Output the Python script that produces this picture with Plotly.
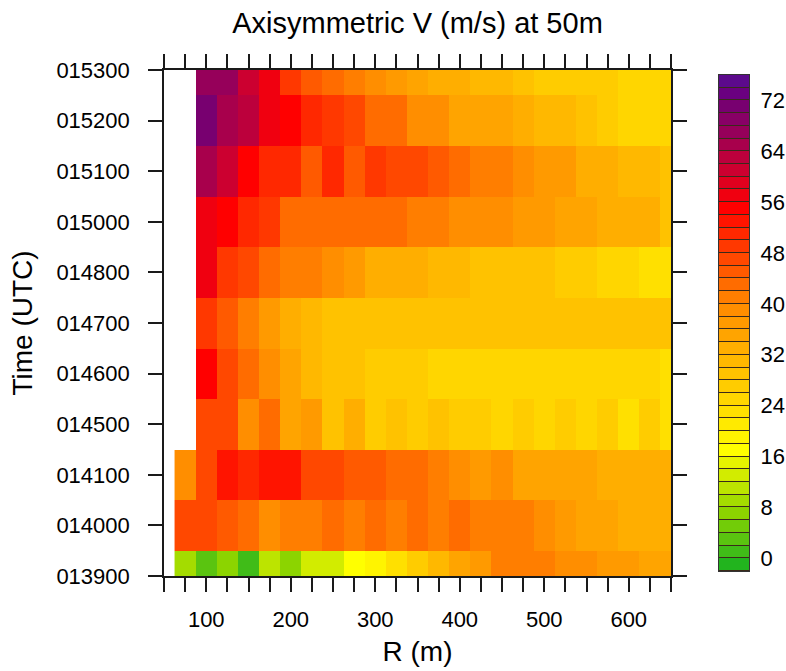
import plotly.graph_objects as go

# Radial bins (m) and observation times
radius_m = list(range(75, 651, 25))
time_labels = ["013900", "014000", "014100", "014500", "014600", "014700",
               "014800", "015000", "015100", "015200", "015300"]

# Axisymmetric tangential wind (m/s) at 50 m, one list per time
v_013900 = [9, 3, 7, 1, 11, 7, 13, 13, 17, 19, 23, 27, 31, 35, 37, 41, 41, 41, 39, 39, 37, 37, 35, 35]
v_014000 = [47, 47, 45, 43, 39, 41, 41, 43, 41, 43, 41, 43, 41, 43, 41, 41, 41, 39, 37, 35, 35, 33, 33, 33]
v_014100 = [39, 47, 53, 51, 53, 53, 47, 47, 45, 45, 43, 43, 41, 39, 37, 39, 35, 35, 35, 35, 33, 33, 33, 33]
v_014500 = [None, 47, 47, 39, 43, 35, 37, 29, 33, 27, 29, 27, 29, 27, 27, 25, 27, 25, 27, 25, 27, 23, 27, 23]
v_014600 = [None, 55, 47, 43, 39, 35, 31, 29, 29, 27, 27, 27, 25, 25, 25, 25, 25, 25, 25, 25, 25, 25, 25, 23]
v_014700 = [None, 49, 45, 41, 37, 33, 31, 29, 29, 29, 29, 29, 29, 29, 29, 29, 29, 29, 29, 29, 29, 29, 29, 29]
v_014800 = [None, 57, 49, 47, 43, 41, 41, 39, 37, 33, 33, 33, 31, 31, 29, 29, 29, 29, 27, 27, 25, 25, 23, 23]
v_015000 = [None, 57, 55, 51, 49, 43, 43, 43, 43, 43, 43, 41, 41, 39, 39, 39, 37, 37, 35, 35, 33, 33, 33, 29]
v_015100 = [None, 65, 61, 55, 51, 51, 45, 51, 45, 49, 47, 47, 45, 43, 41, 41, 39, 37, 37, 33, 33, 31, 31, 29]
v_015200 = [None, 71, 65, 63, 57, 55, 51, 49, 47, 43, 43, 39, 39, 35, 35, 35, 33, 31, 31, 29, 27, 25, 25, 25]
v_015300 = [None, 67, 67, 61, 57, 49, 45, 43, 41, 39, 37, 35, 33, 33, 31, 31, 29, 27, 27, 27, 27, 25, 25, 25]

# Contour levels: 2 m/s steps with open-ended end boxes
level_min, level_max, level_step = -2, 76, 2
level_colors = [
    "#22b41e", "#40bc18", "#5ac410", "#72cc08", "#8cd400", "#a4dc00", "#bce400",
    "#d2ec00", "#e6f400", "#ffff00", "#fff400", "#ffea00", "#ffe000", "#ffd600",
    "#ffcc00", "#ffc200", "#ffb800", "#ffae00", "#ffa400", "#ff9a00", "#ff8e00",
    "#ff7e00", "#ff6c00", "#ff5a00", "#ff4800", "#ff3800", "#ff2800", "#ff1400",
    "#ff0000", "#f00010", "#e0001e", "#cc0030", "#bc003c", "#a8004c", "#96005a",
    "#880066", "#780070", "#6a0080", "#5c0a8c",
]
label_levels = list(range(0, 73, 8))

rows = [v_013900, v_014000, v_014100, v_014500, v_014600, v_014700,
        v_014800, v_015000, v_015100, v_015200, v_015300]

n_bins = len(level_colors)
colorscale = []
for i, c in enumerate(level_colors):
    colorscale.append([i / n_bins, c])
    colorscale.append([(i + 1) / n_bins, c])
bin_centers = [level_min + level_step * (i + 0.5) for i in range(n_bins)]

FONT = "Liberation Sans, Arial, Helvetica, sans-serif"
INK = "#1a1a1a"

# Page geometry (px)
W, H = 786, 671
ML, MR, MT, MB = 164, 37, 70, 95
paper_w = W - ML - MR
paper_h = H - MT - MB
plot_right_px = 671
cb_left_px, cb_right_px = 719, 749
cb_top_px, cb_bot_px = 75, 571

fig = go.Figure()

# Main field
fig.add_trace(go.Heatmap(
    x=radius_m,
    y=list(range(len(time_labels))),
    z=rows,
    zmin=level_min, zmax=level_max,
    colorscale=colorscale,
    showscale=False,
    hoverongaps=False,
    xaxis="x", yaxis="y",
))

# Label bar: one box per contour interval
fig.add_trace(go.Heatmap(
    x=[0],
    y=bin_centers,
    z=[[c] for c in bin_centers],
    zmin=level_min, zmax=level_max,
    colorscale=colorscale,
    showscale=False,
    ygap=1,
    hoverinfo="skip",
    xaxis="x2", yaxis="y2",
))
fig.add_shape(type="rect", xref="x2", yref="y2", x0=-0.5, x1=0.5,
              y0=level_min, y1=level_max, fillcolor="#3a2a1a",
              line=dict(width=0), layer="below")

x_ticks = list(range(50, 651, 25))
x_text = [str(v) if v % 100 == 0 and 100 <= v <= 600 else "" for v in x_ticks]

axis_common = dict(
    showline=True, linewidth=1.6, linecolor=INK, mirror="ticks",
    ticks="outside", ticklen=14, tickwidth=1.5, tickcolor=INK,
    showgrid=False, zeroline=False,
    tickfont=dict(family=FONT, size=22, color="black"),
)

fig.update_layout(
    xaxis=dict(
        domain=[0, (plot_right_px - ML) / paper_w],
        range=[50, 650], tickmode="array", tickvals=x_ticks, ticktext=x_text,
        ticklabelstandoff=9,
        title=dict(text="R (m)", font=dict(family=FONT, size=28, color="black"), standoff=10),
        anchor="y",
        **axis_common,
    ),
    yaxis=dict(
        domain=[0, 1],
        range=[0, 10], tickmode="array", tickvals=list(range(len(time_labels))),
        ticktext=time_labels, ticklabelstandoff=14,
        title=dict(text="Time (UTC)", font=dict(family=FONT, size=28, color="black"), standoff=16),
        anchor="x",
        **axis_common,
    ),
    xaxis2=dict(
        domain=[(cb_left_px - ML) / paper_w, (cb_right_px - ML) / paper_w],
        range=[-0.5, 0.5], anchor="y2",
        showline=True, linewidth=1, linecolor="#333333", mirror=True,
        showticklabels=False, ticks="", showgrid=False, zeroline=False,
        fixedrange=True,
    ),
    yaxis2=dict(
        domain=[(MT + paper_h - cb_bot_px) / paper_h, (MT + paper_h - cb_top_px) / paper_h],
        range=[level_min, level_max], anchor="x2", side="right",
        tickmode="array", tickvals=label_levels,
        ticks="", ticklabelstandoff=6,
        showline=True, linewidth=1, linecolor="#333333", mirror=True,
        showgrid=False, zeroline=False, fixedrange=True,
        tickfont=dict(family=FONT, size=22, color="black"),
    ),
    width=W, height=H,
    margin=dict(l=ML, r=MR, t=MT, b=MB, autoexpand=False),
    paper_bgcolor="white", plot_bgcolor="white",
    title=dict(text="Axisymmetric V (m/s) at 50m",
               x=(ML + plot_right_px) / 2 / W, xref="container", xanchor="center",
               y=1 - 23 / H, yref="container", yanchor="middle",
               font=dict(family=FONT, size=29, color="black")),
    showlegend=False,
)

fig.write_html("out.html")
